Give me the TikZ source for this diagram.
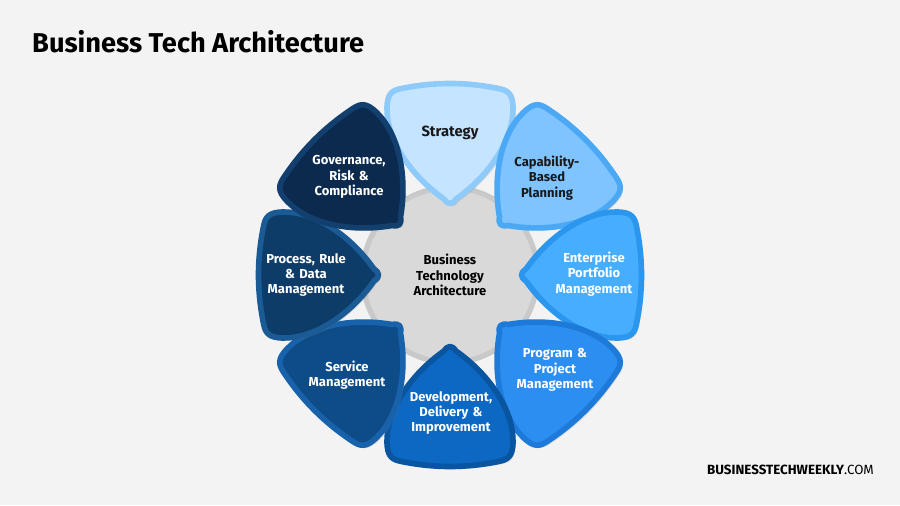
\documentclass[tikz,border=0pt]{standalone}
\usepackage{fontspec}
\setmainfont{Fira Sans}
\usetikzlibrary{shadows}
\definecolor{bg}{HTML}{F3F3F3}
\tikzset{
 petal/.style={line width=3.2pt,line join=round,drop shadow={shadow xshift=1.5pt,shadow yshift=-1.5pt,opacity=0.25}},
 ptxt/.style={align=center,font=\fontsize{7.4}{8.8}\selectfont\bfseries,text width=2.3cm},
}
\newcommand{\petalpath}{(-6,76) .. controls (-2,70) and (2,70) .. (6,76) .. controls (40,100) and (63,135) .. (63,166) .. controls (63,182) and (58,185) .. (46,187) .. controls (15,193) and (-15,193) .. (-46,187) .. controls (-58,185) and (-63,182) .. (-63,166) .. controls (-63,135) and (-40,100) .. (-6,76) -- cycle}
\begin{document}
\begin{tikzpicture}[x=0.02cm,y=0.02cm]
\fill[bg] (0,0) rectangle (900,505);
\useasboundingbox (0,0) rectangle (900,505);
\node[anchor=west,font=\fontsize{15.5}{18}\selectfont\bfseries] (title) at (26,463) {Business Tech Architecture};
\node[anchor=east,font=\fontsize{7.6}{9}\selectfont] (foot) at (880,35) {\textbf{BUSINESSTECHWEEKLY}.COM};
\node[circle,fill=black!15,draw=black!21,line width=3pt,minimum size=3.5cm] (c) at (450,230) {};
\node[ptxt,text=black] (ctxt) at (c) {Business\\Technology\\Architecture};
\foreach \ang/\fc/\dc in {90/C5E4FF/8FCBFA,45/7FC3FF/4AA8F5,0/47AEFF/2A96EE,-45/2D8EF2/1E7AD8,-90/0C68C2/0A55A0,-135/0E4C88/1762AA,180/0D3C68/1A5A95,135/0B2A4E/123F6E}{
 \definecolor{pf}{HTML}{\fc}\definecolor{pd}{HTML}{\dc}
 \begin{scope}[shift={(450,230)},rotate=\ang-90]
  \path[petal,fill=pf,draw=pd] \petalpath;
 \end{scope}
}
\node[ptxt,text=black!90] (p1) at (450,372) {\fontsize{8.4}{10}\selectfont Strategy};
\node[ptxt,text=black!90] (p2) at (547,327) {Capability-\\Based\\Planning};
\node[ptxt,text=white] (p3) at (594,231) {Enterprise\\Portfolio\\Management};
\node[ptxt,text=white] (p4) at (555,135) {Program \&\\Project\\Management};
\node[ptxt,text=white] (p5) at (451,92) {Development,\\Delivery \&\\Improvement};
\node[ptxt,text=white] (p6) at (347,130) {Service\\Management};
\node[ptxt,text=white] (p7) at (306,230) {Process, Rule\\\& Data\\Management};
\node[ptxt,text=white] (p8) at (349,328) {Governance,\\Risk \&\\Compliance};
\end{tikzpicture}
\end{document}
